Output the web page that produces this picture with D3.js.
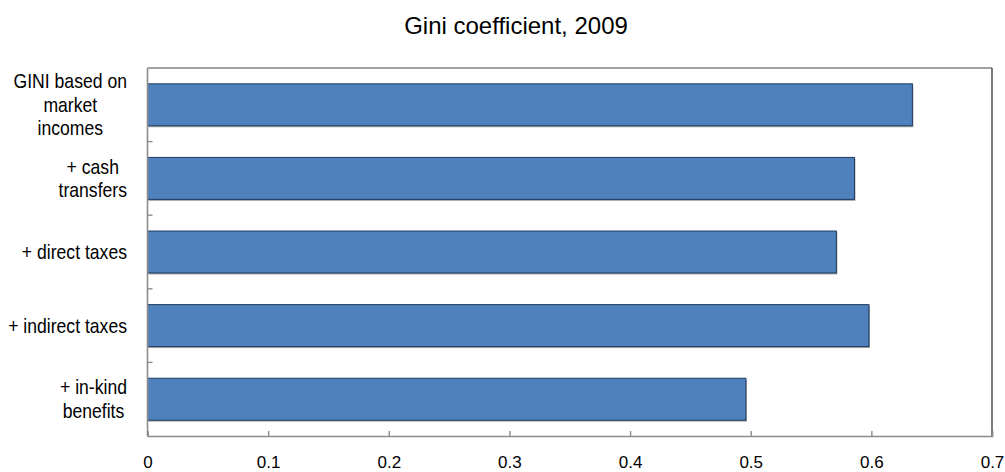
<!DOCTYPE html>
<html><head><meta charset="utf-8">
<script src="https://cdn.jsdelivr.net/npm/d3@7"></script>
<style>body{margin:0;background:#fff}svg{display:block;font-family:"Liberation Sans",Arial,sans-serif}</style>
</head><body>
<svg id="c" width="1005" height="472"></svg>
<script>
const categories = [["GINI based on","market","incomes"],["+ cash","transfers"],["+ direct taxes"],["+ indirect taxes"],["+ in-kind","benefits"]];
const values = [0.634, 0.586, 0.571, 0.598, 0.496];
const xTicks = [0,0.1,0.2,0.3,0.4,0.5,0.6,0.7];
const title = "Gini coefficient, 2009";

const svg = d3.select("#c");
const L=147.5, R=992, T=68, B=436;
const x = d3.scaleLinear().domain([0,0.7]).range([L,R]);
const y = d3.scaleBand().domain(d3.range(categories.length)).range([T,B]).paddingInner(0.43).paddingOuter(0.215);

svg.append("text").attr("x",516).attr("y",34).attr("text-anchor","middle").attr("font-size",24).attr("fill","#000").text(title);

// frame top/right
svg.append("line").attr("x1",L).attr("x2",R).attr("y1",T).attr("y2",T).attr("stroke","#444").attr("stroke-width",1.2);
svg.append("line").attr("x1",R).attr("x2",R).attr("y1",T).attr("y2",B).attr("stroke","#222").attr("stroke-width",1.2);

// bar shadows
svg.selectAll("rect.shadow").data(values).join("rect").attr("class","shadow")
  .attr("x",x(0)+1).attr("y",(d,i)=>y(i)+1.5).attr("width",d=>x(d)-x(0)).attr("height",y.bandwidth())
  .attr("fill","#a6a6a6");
// bars
svg.selectAll("rect.bar").data(values).join("rect").attr("class","bar")
  .attr("x",x(0)).attr("y",(d,i)=>y(i)).attr("width",d=>x(d)-x(0)).attr("height",y.bandwidth())
  .attr("fill","#4F81BD").attr("stroke","#1F3A60").attr("stroke-width",1);

// bottom axis
const xa = svg.append("g").attr("transform",`translate(0,${B})`)
  .call(d3.axisBottom(x).tickValues(xTicks).tickSize(-5).tickPadding(0).tickFormat(d=>d===0?"0":d3.format(".1f")(d)));
xa.select(".domain").attr("stroke","#8c8c8c").attr("stroke-width",1.6);
xa.selectAll(".tick line").attr("stroke","#8c8c8c").attr("stroke-width",1.4);
xa.selectAll(".tick text").attr("y",31.5).attr("dy",0).attr("font-size",17).attr("fill","#000").attr("font-family","Liberation Sans, Arial, sans-serif");

// left axis
svg.append("line").attr("x1",L).attr("x2",L).attr("y1",T).attr("y2",B).attr("stroke","#8c8c8c").attr("stroke-width",1.6);
svg.selectAll("line.ytick").data(d3.range(1,categories.length)).join("line").attr("class","ytick")
  .attr("x1",L).attr("x2",L+5).attr("y1",d=>T+d*(B-T)/categories.length).attr("y2",d=>T+d*(B-T)/categories.length)
  .attr("stroke","#8c8c8c").attr("stroke-width",1.4);

// category labels (condensed)
const lh = 23.5, sx = 0.88;
categories.forEach((lines,i)=>{
  const cy = y(i)+y.bandwidth()/2;
  const g = svg.append("g");
  const texts = lines.map((s,k)=>g.append("text").attr("font-size",20).attr("fill","#000").attr("text-anchor","middle")
     .attr("x",0).attr("y",cy + (k-(lines.length-1)/2)*lh + 7).text(s));
  const maxW = d3.max(texts,t=>t.node().getComputedTextLength())*sx;
  g.attr("transform",`translate(${127-maxW/2},0) scale(${sx},1)`);
});
</script>
</body></html>
